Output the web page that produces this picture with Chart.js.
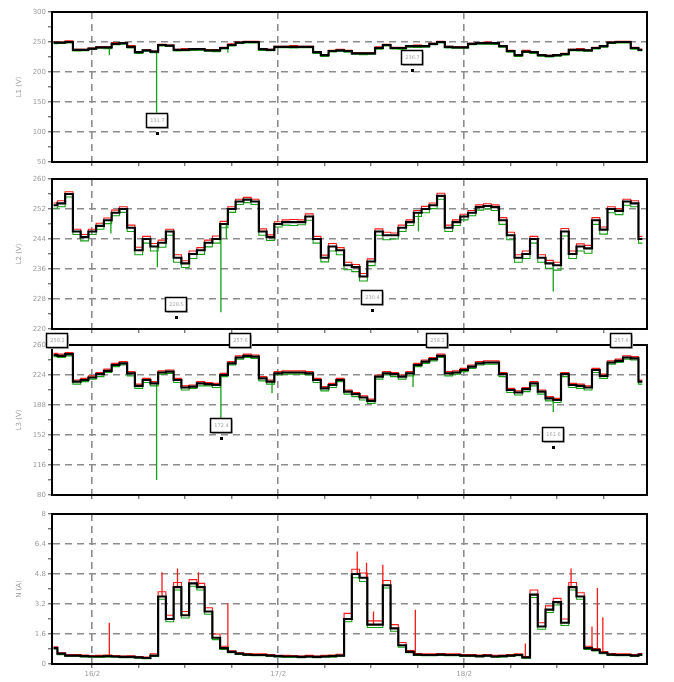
<!DOCTYPE html>
<html>
<head>
<meta charset="utf-8">
<script src="https://cdn.jsdelivr.net/npm/chart.js@4.4.1/dist/chart.umd.min.js"></script>
<style>
  html, body { margin: 0; padding: 0; background: #fff; }
  #wrap { position: relative; width: 674px; height: 682px; overflow: hidden; }
  #wrap canvas { position: absolute; left: 0; }
</style>
</head>
<body>
<div id="wrap">
  <canvas id="c1"></canvas>
  <canvas id="c2"></canvas>
  <canvas id="c3"></canvas>
  <canvas id="c4"></canvas>
</div>
<script>
// Hours relative to midnight of the first day (one sample per hour)
const HOURS = [-5,-4,-3,-2,-1,0,1,2,3,4,5,6,7,8,9,10,11,12,13,14,15,16,17,18,19,20,
  21,22,23,24,25,26,27,28,29,30,31,32,33,34,35,36,37,38,39,40,41,42,43,44,45,46,47,
  48,49,50,51,52,53,54,55,56,57,58,59,60,61,62,63,64,65,66,67,68,69,70,71];

// Time axis ticks (every 6 h) and day labels at midnight
const TICK_HOURS = [0,6,12,18,24,30,36,42,48,54,60,66];
const DAY_HOURS = [0,24,48];
const DAY_LABELS = ['16/2','17/2','18/2'];

// Y axis tick labels per panel
const L1_TICKS = [50,100,150,200,250,300];
const L2_TICKS = [220,228,236,244,252,260];
const L3_TICKS = [80,116,152,188,224,260];
const N_TICKS  = [0,1.6,3.2,4.8,6.4,8];

// Phase L1 voltage: average, maximum and minimum per hour
const L1_AVG = [249,249,250,237,237,239,241,241,247,248,
  242,233,236,234,245,244,237,237,238,238,
  236,236,240,245,249,250,250,238,237,242,
  242,242,242,242,233,228,235,236,235,231,
  231,231,240,245,240,240,243,243,243,247,
  250,242,241,241,247,248,248,248,243,235,
  228,234,233,228,227,228,230,237,237,236,
  240,243,249,250,250,240,237];
const L1_MAX = [250,250,252,238,238,240,242,242,249,249,
  244,234,237,235,246,245,238,239,239,239,
  237,237,241,247,250,251,251,239,238,243,
  243,244,243,243,234,229,236,238,236,232,
  232,232,242,246,241,241,244,245,244,248,
  251,243,242,242,248,249,250,249,244,236,
  229,236,234,229,228,229,231,238,239,237,
  241,244,250,251,251,241,238];
const L1_MIN = [247,247.5,248.5,235,235.5,237.5,239.5,239,245.5,246.5,
  240,231,234.5,232,243.5,242.5,235,235.5,236,236.5,
  234.5,234,238.5,243.5,247.5,248.5,248.5,236,235.5,240.5,
  240.5,240,240.5,240.5,231,226,233.5,234.5,233,229.5,
  229,229.5,238,243.5,238.5,238,241.5,241,241.5,245.5,
  248.5,240,239.5,239.5,245.5,246.5,246.5,246,241.5,233,
  226,232.5,231,226.5,225,226.5,228,235.5,235,234.5,
  238.5,241.5,247.5,248.5,248.5,238,235.5];
const L1_DROP_T = [2.2, 8.3, 17.5];
const L1_DROP_V = [228, 132, 232];

// Phase L2 voltage
const L2_AVG = [253,253.5,256,246,244.5,246,247.5,249,251,252,
  247,241,244,242,243,246,239,237.5,240,241,
  243,244,248,252,254,254.5,254,246,244.5,248,
  248.5,248.5,248.5,250,244,239,242,241,237,236.5,
  234,238,246,245,245,247,248.5,251,252,253,
  255.5,247,248.5,250,251,252.5,252.8,252.5,249,245,
  239,240,244,239,237.5,237,246,240,242,241.5,
  249,246.5,252,251.5,254,253.5,244];
const L2_MAX = [253.6,254.2,256.6,246.6,245.2,246.6,248.2,249.6,251.7,252.6,
  247.7,241.8,244.7,242.8,243.7,246.6,239.8,238.2,240.8,241.7,
  243.7,244.8,248.7,252.6,254.6,255.1,254.6,246.7,245.1,248.6,
  249.1,249.2,249.1,250.7,244.7,239.7,242.8,241.7,237.8,237.2,
  234.8,238.7,246.7,245.8,245.6,247.7,249.1,251.6,252.7,253.6,
  256.2,247.7,249.1,250.6,251.6,253.1,253.4,253.1,249.7,245.8,
  239.8,240.8,244.7,239.8,238.3,237.8,246.8,240.8,242.7,242.3,
  249.7,247.2,252.6,252.1,254.6,254.2,244.7];
const L2_MIN = [252.2,252.6,255.2,245.2,243.5,245.2,246.6,248.1,250.2,251.1,
  246,239.8,242.9,240.8,241.8,245,237.8,236.4,238.8,239.9,
  241.9,242.9,247,251.1,253.2,253.7,253.2,245,243.6,247.2,
  247.7,247.6,247.8,249,242.9,237.9,240.8,239.8,235.8,235.3,
  232.8,236.9,245,243.8,244,246,247.6,250,251,252.1,
  254.6,246,247.6,249.1,250.2,251.7,252,251.6,247.9,243.8,
  237.8,238.8,242.9,237.8,236.2,235.7,244.8,238.8,240.8,240.2,
  247.9,245.3,251,250.5,253,252.6,242.9];
const L2_DROP_T = [2.4, 8.4, 16.6, 17.3, 42.1, 59.5];
const L2_DROP_V = [245.5, 236.5, 224.5, 244, 246, 230];

// Phase L3 voltage
const L3_AVG = [248,247,249,216,218,221,225,229,236,238,
  226,211,218,214,227,228,218,209,210,214,
  213,212,224,238,245,247,246,220,216,226,
  227,227,227,226,218,208,212,218,204,201,
  197,193,222,226,225,222,226,236,240,243,
  247,226,227,230,234,238,239,239,225,206,
  203,207,214,204,196,194,225,212,211,209,
  230,223,239,241,245,244,216];
const L3_MAX = [250,249,251,218,220,223,227,231,238,240,
  228,213,220,216,229,230,220,211,212,216,
  215,214,226,240,247,249,248,222,218,228,
  229,229,229,228,220,210,214,220,206,203,
  199,195,224,228,227,224,228,238,242,245,
  249,228,229,232,236,240,241,241,227,208,
  205,209,216,206,198,196,227,214,213,211,
  232,225,241,243,247,246,218];
const L3_MIN = [246,245,247,213,216,219,222,227,234,236,
  223,208,215,211,225,226,215,206,208,211,
  211,209,222,236,243,245,244,217,213,224,
  225,225,225,224,215,205,209,216,201,198,
  194,190,219,224,222,219,223,234,238,241,
  245,223,225,228,232,236,237,237,222,203,
  200,204,211,201,193,191,222,209,208,206,
  227,220,237,239,243,242,213];
const L3_DROP_T = [8.3, 16.6, 23.2, 41.4, 59.5];
const L3_DROP_V = [98, 172.4, 202, 209.6, 179.6];

// Neutral current
const N_AVG = [0.85,0.55,0.45,0.45,0.42,0.4,0.4,0.42,0.4,0.38,0.38,0.35,0.32,0.45,
  3.6,2.4,4.1,2.6,4.3,4.1,2.8,1.4,0.85,0.65,
  0.55,0.5,0.48,0.48,0.45,0.42,0.4,0.4,0.38,0.4,0.38,0.4,0.42,0.45,
  2.4,4.8,4.6,2.1,2.1,4.2,1.9,1.0,0.65,
  0.5,0.48,0.48,0.5,0.48,0.48,0.45,0.45,0.42,0.45,0.4,0.42,0.45,0.48,0.35,
  3.7,2.0,2.9,3.3,2.2,4.1,3.6,0.85,
  0.75,0.6,0.5,0.48,0.48,0.45,0.5];
const N_MAX = [0.92,0.6,0.5,0.5,0.48,0.45,0.46,0.48,0.45,0.43,0.44,0.4,0.37,0.55,
  3.85,2.6,4.35,2.8,4.5,4.3,3.0,1.6,0.95,0.7,
  0.6,0.56,0.54,0.55,0.5,0.47,0.46,0.45,0.43,0.46,0.43,0.46,0.48,0.52,
  2.7,5.05,4.85,2.3,2.3,4.45,2.1,1.15,0.72,
  0.56,0.54,0.55,0.56,0.54,0.55,0.5,0.51,0.48,0.5,0.46,0.48,0.51,0.55,0.4,
  3.95,2.2,3.1,3.5,2.4,4.35,3.8,0.95,
  0.82,0.66,0.56,0.54,0.55,0.5,0.56];
const N_MIN = [0.8,0.5,0.41,0.41,0.38,0.36,0.36,0.38,0.36,0.34,0.34,0.31,0.28,0.4,
  3.45,2.25,3.95,2.45,4.15,3.95,2.65,1.3,0.78,0.6,
  0.51,0.46,0.44,0.44,0.41,0.38,0.36,0.36,0.34,0.36,0.34,0.36,0.38,0.41,
  2.25,4.6,4.4,1.95,1.95,4.05,1.75,0.9,0.6,
  0.46,0.44,0.44,0.46,0.44,0.44,0.41,0.41,0.38,0.41,0.36,0.38,0.41,0.44,0.31,
  3.55,1.85,2.75,3.15,2.05,3.95,3.45,0.78,
  0.7,0.55,0.46,0.44,0.44,0.41,0.46];
const N_PEAK_T = [2.2, 9.0, 11.0, 13.7, 17.5, 34.2, 35.4, 36.3, 37.5, 41.7, 55.9, 61.8, 64.5, 65.2, 65.9];
const N_PEAK_V = [2.2, 4.9, 5.1, 4.9, 3.25, 6.0, 5.4, 2.8, 5.3, 2.9, 1.1, 5.1, 2.0, 4.05, 2.5];

// Value call-outs: time, value, text, box side, marker
const L1_NOTES = [
  { t: 8.3,  v: 131.7, text: '131.7', side: 'below', mark: true },
  { t: 41.3, v: 236.7, text: '236.7', side: 'below', mark: true }
];
const L2_NOTES = [
  { t: 10.8, v: 228.5, text: '228.5', side: 'below', mark: true },
  { t: 36.1, v: 230.4, text: '230.4', side: 'below', mark: true }
];
const L3_NOTES = [
  { t: -4.5, v: 258.2, text: '258.2', side: 'above', mark: false },
  { t: 19.1, v: 257.6, text: '257.6', side: 'above', mark: false },
  { t: 44.5, v: 258.2, text: '258.2', side: 'above', mark: false },
  { t: 68.3, v: 257.6, text: '257.6', side: 'above', mark: false },
  { t: 16.6, v: 172.4, text: '172.4', side: 'below', mark: true },
  { t: 59.5, v: 161.6, text: '161.6', side: 'below', mark: true }
];

const GRID = '#8c8c8c';
const LABEL = '#9c9c9c';
const FONT = { family: 'DejaVu Sans', size: 7 };

function pts(values) {
  return HOURS.map((h, i) => ({ x: h, y: values[i] }));
}
function spikes(times, values, avg) {
  const out = [];
  times.forEach((t, i) => {
    const base = avg[HOURS.indexOf(Math.round(t))];
    out.push({ x: t, y: base }, { x: t, y: values[i] }, { x: t, y: null });
  });
  return out;
}

// Black frame round the plot area
const framePlugin = {
  id: 'frame',
  afterDatasetsDraw(chart) {
    const { ctx, chartArea: a } = chart;
    ctx.save();
    ctx.strokeStyle = '#000';
    ctx.lineWidth = 2;
    ctx.strokeRect(a.left, a.top, a.right - a.left, a.bottom - a.top);
    ctx.restore();
  }
};

// Boxed value call-outs
const notesPlugin = {
  id: 'notes',
  afterDraw(chart, args, opts) {
    const items = opts.items || [];
    const { ctx } = chart;
    const xs = chart.scales.x, ys = chart.scales.y;
    const w = 21, h = 14;
    ctx.save();
    items.forEach(n => {
      const cx = Math.round(xs.getPixelForValue(n.t));
      const py = Math.round(ys.getPixelForValue(n.v));
      const top = n.side === 'below' ? py : py - h;
      const left = cx - Math.round(w / 2);
      ctx.fillStyle = '#bdbdbd';
      ctx.fillRect(left + 2, top + 2, w, h);
      ctx.fillStyle = '#fff';
      ctx.fillRect(left, top, w, h);
      ctx.strokeStyle = '#000';
      ctx.lineWidth = 1.5;
      ctx.strokeRect(left + 0.5, top + 0.5, w, h);
      ctx.fillStyle = '#a6a6a6';
      ctx.font = '5px "DejaVu Sans"';
      ctx.textAlign = 'center';
      ctx.textBaseline = 'middle';
      ctx.fillText(n.text, cx + 0.5, top + h / 2 + 1);
      if (n.mark) {
        ctx.fillStyle = '#000';
        ctx.fillRect(cx - 1, top + h + 5, 3, 3);
      }
    });
    ctx.restore();
  }
};

const panels = [
  { id: 'c1', areaTop: 12, padTop: 12, bottom: 12, ticks: L1_TICKS, title: 'L1 (V)',
    avg: L1_AVG, hi: L1_MAX, lo: L1_MIN, dropT: L1_DROP_T, dropV: L1_DROP_V, peakT: [], peakV: [], notes: L1_NOTES, xLabels: false },
  { id: 'c2', areaTop: 179, padTop: 20, bottom: 12, ticks: L2_TICKS, title: 'L2 (V)',
    avg: L2_AVG, hi: L2_MAX, lo: L2_MIN, dropT: L2_DROP_T, dropV: L2_DROP_V, peakT: [], peakV: [], notes: L2_NOTES, xLabels: false },
  { id: 'c3', areaTop: 345, padTop: 20, bottom: 12, ticks: L3_TICKS, title: 'L3 (V)',
    avg: L3_AVG, hi: L3_MAX, lo: L3_MIN, dropT: L3_DROP_T, dropV: L3_DROP_V, peakT: [], peakV: [], notes: L3_NOTES, xLabels: false },
  { id: 'c4', areaTop: 514, padTop: 20, bottom: 18, ticks: N_TICKS, title: 'N (A)',
    avg: N_AVG, hi: N_MAX, lo: N_MIN, dropT: [], dropV: [], peakT: N_PEAK_T, peakV: N_PEAK_V, notes: [], xLabels: true }
];

const AREA_H = 150;

panels.forEach(p => {
  const cv = document.getElementById(p.id);
  cv.width = 674;
  cv.height = p.padTop + AREA_H + p.bottom;
  cv.style.top = (p.areaTop - p.padTop) + 'px';
  const yMin = p.ticks[0], yMax = p.ticks[p.ticks.length - 1];
  const isMajor = v => p.ticks.some(t => Math.abs(t - v) < 1e-6);

  new Chart(cv, {
    type: 'line',
    data: {
      datasets: [
        { data: pts(p.avg), borderColor: '#000', borderWidth: 2.2, stepped: 'middle', pointRadius: 0, order: 0 },
        { data: pts(p.hi), borderColor: '#ff1a1a', borderWidth: 1.1, stepped: 'middle', pointRadius: 0, order: 1 },
        { data: pts(p.lo), borderColor: '#16a016', borderWidth: 1.1, stepped: 'middle', pointRadius: 0, order: 2 },
        { data: spikes(p.dropT, p.dropV, p.avg), borderColor: '#16a016', borderWidth: 1.3, pointRadius: 0, spanGaps: false, order: 3 },
        { data: spikes(p.peakT, p.peakV, p.avg), borderColor: '#ff1a1a', borderWidth: 1.3, pointRadius: 0, spanGaps: false, order: 4 }
      ]
    },
    options: {
      responsive: false,
      animation: false,
      devicePixelRatio: 1,
      layout: { padding: { top: p.padTop, right: 27, left: 0, bottom: 0 } },
      plugins: {
        legend: { display: false },
        tooltip: { enabled: false },
        notes: { items: p.notes }
      },
      scales: {
        x: {
          type: 'linear',
          min: -5.2,
          max: 71.6,
          afterBuildTicks: s => { s.ticks = TICK_HOURS.map(v => ({ value: v })); },
          afterFit: s => { s.height = p.bottom; },
          grid: {
            color: c => (c.tick && DAY_HOURS.includes(c.tick.value)) ? GRID : 'rgba(0,0,0,0)',
            lineWidth: 1.6,
            tickLength: 4,
            tickColor: '#444',
            tickWidth: 1
          },
          border: { display: true, color: '#000', width: 2, dash: [7, 5] },
          ticks: {
            display: p.xLabels,
            autoSkip: false,
            maxRotation: 0,
            padding: 2,
            color: LABEL,
            font: FONT,
            callback: v => {
              const k = DAY_HOURS.indexOf(v);
              return k >= 0 ? DAY_LABELS[k] : '';
            }
          }
        },
        y: {
          type: 'linear',
          min: yMin,
          max: yMax,
          afterBuildTicks: s => {
            const t = [];
            p.ticks.forEach((v, i) => {
              t.push({ value: v });
              if (i < p.ticks.length - 1) t.push({ value: (v + p.ticks[i + 1]) / 2 });
            });
            s.ticks = t;
          },
          afterFit: s => { s.width = 52; },
          grid: {
            color: c => (c.tick && isMajor(c.tick.value) && c.tick.value !== yMin && c.tick.value !== yMax) ? GRID : 'rgba(0,0,0,0)',
            lineWidth: 1.6,
            tickLength: 4,
            tickColor: '#444',
            tickWidth: 1
          },
          border: { display: true, color: '#000', width: 2, dash: [7, 5] },
          title: {
            display: true,
            text: p.title,
            color: LABEL,
            font: FONT,
            padding: { top: 15, bottom: 0 }
          },
          ticks: {
            padding: 2,
            color: LABEL,
            font: FONT,
            autoSkip: false,
            callback: v => isMajor(v) ? String(v) : ''
          }
        }
      }
    },
    plugins: [framePlugin, notesPlugin]
  });
});
</script>
</body>
</html>
